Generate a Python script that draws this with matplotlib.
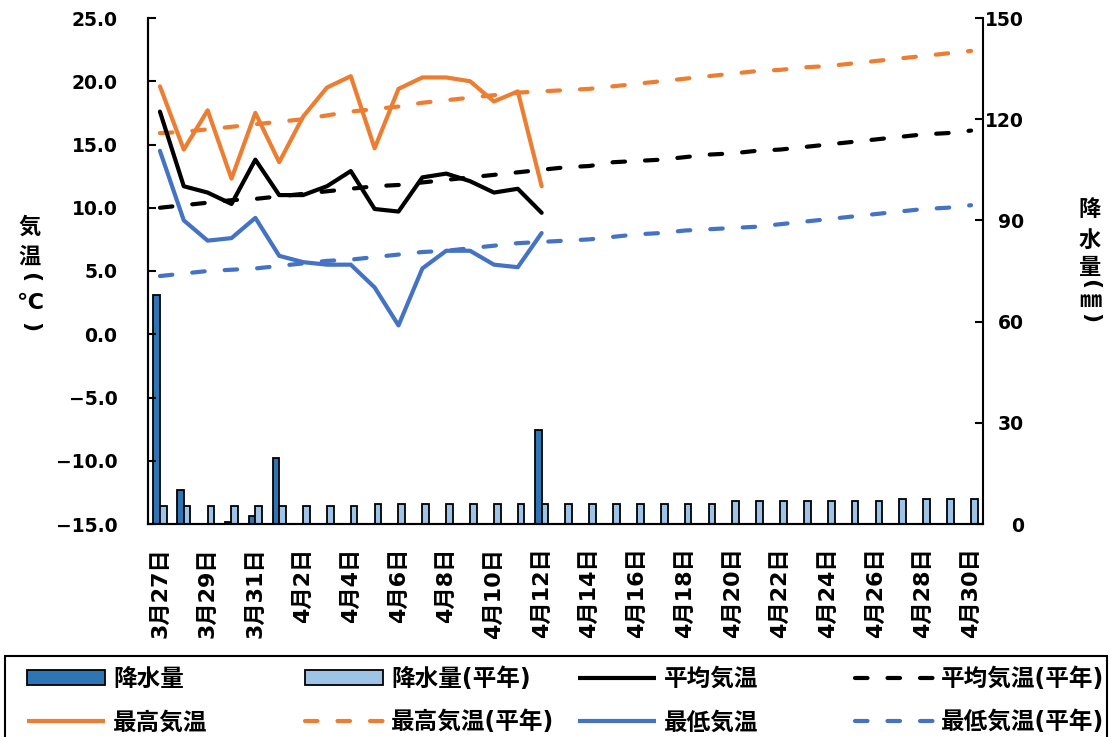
import matplotlib
matplotlib.use('Agg')
import matplotlib.pyplot as plt
from matplotlib.patches import Patch, Rectangle
from matplotlib.lines import Line2D
import numpy as np

plt.rcParams['font.family'] = ['DejaVu Sans', 'Noto Sans CJK JP']
plt.rcParams['font.weight'] = 'bold'

dates = ['3月27日', '3月28日', '3月29日', '3月30日', '3月31日',
         '4月1日', '4月2日', '4月3日', '4月4日', '4月5日', '4月6日', '4月7日',
         '4月8日', '4月9日', '4月10日', '4月11日', '4月12日', '4月13日',
         '4月14日', '4月15日', '4月16日', '4月17日', '4月18日', '4月19日',
         '4月20日', '4月21日', '4月22日', '4月23日', '4月24日', '4月25日',
         '4月26日', '4月27日', '4月28日', '4月29日', '4月30日']

# observed (3/27 - 4/12)
precip = [68, 10, 0, 0.5, 2.5, 19.5, 0, 0, 0, 0, 0, 0, 0, 0, 0, 0, 28]
temp_mean = [17.6, 11.7, 11.2, 10.3, 13.8, 11.0, 11.0, 11.7, 12.9, 9.9, 9.7,
             12.4, 12.7, 12.1, 11.2, 11.5, 9.6]
temp_max = [19.6, 14.6, 17.7, 12.3, 17.5, 13.6, 17.2, 19.5, 20.4, 14.7, 19.4,
            20.3, 20.3, 20.0, 18.4, 19.2, 11.7]
temp_min = [14.5, 9.0, 7.4, 7.6, 9.2, 6.2, 5.7, 5.5, 5.5, 3.7, 0.7,
            5.2, 6.6, 6.6, 5.5, 5.3, 8.0]

# normals (3/27 - 4/30)
precip_normal = [5.2, 5.2, 5.2, 5.2, 5.2, 5.2, 5.2, 5.2, 5.2,
                 6.0, 6.0, 6.0, 6.0, 6.0, 6.0, 6.0, 6.0, 6.0, 6.0, 6.0, 6.0,
                 6.0, 6.0, 6.0,
                 6.8, 6.8, 6.8, 6.8, 6.8, 6.8, 6.8,
                 7.4, 7.4, 7.4, 7.4]
normal_mean = [10.0, 10.2, 10.4, 10.6, 10.7, 10.9, 11.1, 11.3, 11.5, 11.7,
               11.8, 12.0, 12.2, 12.4, 12.6, 12.8, 13.0, 13.2, 13.3, 13.6,
               13.7, 13.8, 14.0, 14.2, 14.3, 14.5, 14.6, 14.8, 15.0, 15.2,
               15.4, 15.6, 15.8, 15.9, 16.1]
normal_max = [15.9, 16.0, 16.2, 16.4, 16.6, 16.8, 17.0, 17.3, 17.6, 17.8,
              18.0, 18.3, 18.5, 18.7, 18.9, 19.1, 19.2, 19.3, 19.4, 19.6,
              19.8, 20.0, 20.2, 20.4, 20.6, 20.8, 20.9, 21.1, 21.2, 21.4,
              21.6, 21.8, 22.0, 22.2, 22.4]
normal_min = [4.6, 4.8, 5.0, 5.1, 5.2, 5.4, 5.6, 5.8, 5.9, 6.1,
              6.3, 6.5, 6.6, 6.8, 7.0, 7.2, 7.3, 7.4, 7.5, 7.7,
              7.9, 8.0, 8.2, 8.3, 8.4, 8.5, 8.7, 8.9, 9.1, 9.3,
              9.5, 9.7, 9.9, 10.0, 10.2]

C_DARK = '#2E75B6'
C_LIGHT = '#9DC3E6'
C_ORANGE = '#ED7D31'
C_BLUE = '#4472C4'
LW = 3.0
DASH = (0, (3, 4.8))

W, H = 1110, 737
fig = plt.figure(figsize=(W / 100, H / 100), dpi=100)
ax = fig.add_axes([148 / W, 1 - 524 / H, (983 - 148) / W, (524 - 18) / H])
ax2 = ax.twinx()
ax.set_zorder(ax2.get_zorder() + 1)
ax.patch.set_visible(False)

x = np.arange(len(dates))
xo = x[:len(precip)]

# bars on the right axis
ax2.bar(xo - 0.14, precip, width=0.28, color=C_DARK, edgecolor='black', linewidth=1.3)
ax2.bar(x + 0.14, precip_normal, width=0.28, color=C_LIGHT, edgecolor='black', linewidth=1.3)

# temperature lines
line_kw = dict(linewidth=LW, solid_capstyle='round', dash_capstyle='round')
ax.plot(x, normal_max, color=C_ORANGE, linestyle=DASH, **line_kw)
ax.plot(x, normal_mean, color='black', linestyle=DASH, **line_kw)
ax.plot(x, normal_min, color=C_BLUE, linestyle=DASH, **line_kw)
ax.plot(xo, temp_max, color=C_ORANGE, **line_kw)
ax.plot(xo, temp_mean, color='black', **line_kw)
ax.plot(xo, temp_min, color=C_BLUE, **line_kw)

ax.set_xlim(-0.5, len(dates) - 0.5)
ax.set_ylim(-15, 25)
ax2.set_ylim(0, 150)

yt = np.arange(-15, 26, 5)
ax.set_yticks(yt)
ax.set_yticklabels([('%.1f' % v).replace('-', '\u2212') for v in yt])
ax.tick_params(axis='y', direction='in', length=6, width=1.5, pad=22, labelsize=13.5)
ax.set_xticks(x[::2])
ax.set_xticklabels(dates[::2], rotation=90, fontsize=16)
ax.tick_params(axis='x', length=0, pad=17)

ax2.set_yticks(np.arange(0, 151, 30))
ax2.tick_params(axis='y', direction='in', length=6, width=1.5, pad=29.5, labelsize=13.5)
for lbl in ax2.get_yticklabels():
    lbl.set_ha('right')

for a in (ax, ax2):
    a.spines['top'].set_visible(False)
    for s in ('left', 'right', 'bottom'):
        a.spines[s].set_linewidth(1.5)
ax.spines['right'].set_visible(False)

# stacked axis titles, brackets turned sideways as in vertical writing
left_chars = [('気', 227, 0), ('温', 257, 0), ('(', 277, -90), ('℃', 303, 0), (')', 327, -90)]
for ch, yy, rot in left_chars:
    fig.text(30 / W, 1 - yy / H, ch, ha='center', va='center', rotation=rot, fontsize=16)
right_chars = [('降', 210, 0), ('水', 241, 0), ('量', 268, 0), ('(', 284, -90), ('㎜', 301, 0), (')', 318, -90)]
for ch, yy, rot in right_chars:
    fig.text(1090 / W, 1 - yy / H, ch, ha='center', va='center', rotation=rot, fontsize=16)


# legend: four columns with equal spacing like the original
def lh(color, dashed=False):
    return Line2D([], [], color=color, linewidth=LW, linestyle=DASH if dashed else '-',
                  dash_capstyle='round', solid_capstyle='butt')


columns = [
    ([Patch(facecolor=C_DARK, edgecolor='black', linewidth=1.3), lh(C_ORANGE)], ['降水量', '最高気温'], 27),
    ([Patch(facecolor=C_LIGHT, edgecolor='black', linewidth=1.3), lh(C_ORANGE, True)], ['降水量(平年)', '最高気温(平年)'], 305),
    ([lh('black'), lh(C_BLUE)], ['平均気温', '最低気温'], 578),
    ([lh('black', True), lh(C_BLUE, True)], ['平均気温(平年)', '最低気温(平年)'], 855),
]
for handles, labels, x0 in columns:
    fig.legend(handles, labels, loc='upper left', bbox_to_anchor=(x0 / W, 1 - 667 / H),
               frameon=False, borderpad=0, borderaxespad=0, handlelength=3.3,
               handleheight=0.6, handletextpad=0.34, labelspacing=0.82,
               prop={'size': 17, 'weight': 'bold'})

fig.add_artist(Rectangle((5 / W, -0.1), (1107 - 5) / W, 0.1 + (H - 656) / H,
                         transform=fig.transFigure, fill=False, edgecolor='black',
                         linewidth=1.5, clip_on=False))

fig.savefig('out.png', dpi=100)
